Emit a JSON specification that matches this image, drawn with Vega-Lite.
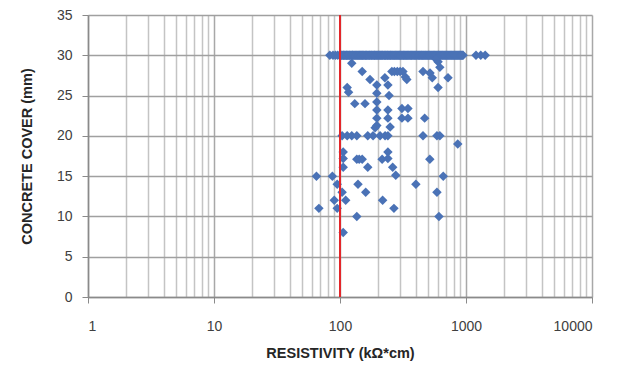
{
  "$schema": "https://vega.github.io/schema/vega-lite/v6.json",
  "width": 504,
  "height": 282,
  "autosize": {"type": "none"},
  "padding": {"left": 88, "top": 15, "right": 36, "bottom": 77},
  "background": "white",
  "config": {
    "view": {"stroke": null},
    "axis": {
      "labelFont": "Liberation Sans",
      "titleFont": "Liberation Sans",
      "labelColor": "#404040",
      "titleColor": "#262626",
      "labelFontSize": 14,
      "titleFontSize": 14.5,
      "titleFontWeight": "bold"
    }
  },
  "datasets": {
    "pts": [
      {"res": 83, "cover": 30}, {"res": 88, "cover": 30}, {"res": 92, "cover": 30}, {"res": 96, "cover": 30},
      {"res": 100, "cover": 30}, {"res": 103, "cover": 30}, {"res": 106, "cover": 30}, {"res": 109, "cover": 30},
      {"res": 112, "cover": 30}, {"res": 115, "cover": 30}, {"res": 118, "cover": 30}, {"res": 121, "cover": 30},
      {"res": 125, "cover": 30}, {"res": 128, "cover": 30}, {"res": 132, "cover": 30}, {"res": 136, "cover": 30},
      {"res": 140, "cover": 30}, {"res": 144, "cover": 30}, {"res": 148, "cover": 30}, {"res": 152, "cover": 30},
      {"res": 157, "cover": 30}, {"res": 161, "cover": 30}, {"res": 166, "cover": 30}, {"res": 171, "cover": 30},
      {"res": 176, "cover": 30}, {"res": 181, "cover": 30}, {"res": 187, "cover": 30}, {"res": 192, "cover": 30},
      {"res": 198, "cover": 30}, {"res": 204, "cover": 30}, {"res": 210, "cover": 30}, {"res": 216, "cover": 30},
      {"res": 223, "cover": 30}, {"res": 229, "cover": 30}, {"res": 236, "cover": 30}, {"res": 243, "cover": 30},
      {"res": 251, "cover": 30}, {"res": 258, "cover": 30}, {"res": 266, "cover": 30}, {"res": 274, "cover": 30},
      {"res": 282, "cover": 30}, {"res": 291, "cover": 30}, {"res": 299, "cover": 30}, {"res": 308, "cover": 30},
      {"res": 318, "cover": 30}, {"res": 327, "cover": 30}, {"res": 337, "cover": 30}, {"res": 347, "cover": 30},
      {"res": 358, "cover": 30}, {"res": 368, "cover": 30}, {"res": 379, "cover": 30}, {"res": 391, "cover": 30},
      {"res": 402, "cover": 30}, {"res": 415, "cover": 30}, {"res": 427, "cover": 30}, {"res": 440, "cover": 30},
      {"res": 453, "cover": 30}, {"res": 466, "cover": 30}, {"res": 480, "cover": 30}, {"res": 495, "cover": 30},
      {"res": 510, "cover": 30}, {"res": 525, "cover": 30}, {"res": 541, "cover": 30}, {"res": 557, "cover": 30},
      {"res": 574, "cover": 30}, {"res": 591, "cover": 30}, {"res": 609, "cover": 30}, {"res": 627, "cover": 30},
      {"res": 646, "cover": 30}, {"res": 665, "cover": 30}, {"res": 685, "cover": 30}, {"res": 706, "cover": 30},
      {"res": 727, "cover": 30}, {"res": 749, "cover": 30}, {"res": 771, "cover": 30}, {"res": 794, "cover": 30},
      {"res": 818, "cover": 30}, {"res": 843, "cover": 30}, {"res": 868, "cover": 30}, {"res": 894, "cover": 30},
      {"res": 921, "cover": 30}, {"res": 948, "cover": 30},
      {"res": 101, "cover": 30}, {"res": 104, "cover": 30}, {"res": 107, "cover": 30}, {"res": 110, "cover": 30},
      {"res": 113, "cover": 30}, {"res": 116, "cover": 30}, {"res": 119, "cover": 30}, {"res": 123, "cover": 30},
      {"res": 126, "cover": 30}, {"res": 130, "cover": 30}, {"res": 134, "cover": 30}, {"res": 138, "cover": 30},
      {"res": 142, "cover": 30}, {"res": 146, "cover": 30}, {"res": 150, "cover": 30}, {"res": 154, "cover": 30},
      {"res": 159, "cover": 30}, {"res": 163, "cover": 30}, {"res": 168, "cover": 30}, {"res": 173, "cover": 30},
      {"res": 178, "cover": 30}, {"res": 184, "cover": 30}, {"res": 189, "cover": 30}, {"res": 195, "cover": 30},
      {"res": 201, "cover": 30}, {"res": 207, "cover": 30}, {"res": 213, "cover": 30}, {"res": 219, "cover": 30},
      {"res": 226, "cover": 30}, {"res": 232, "cover": 30}, {"res": 239, "cover": 30}, {"res": 247, "cover": 30},
      {"res": 254, "cover": 30}, {"res": 262, "cover": 30}, {"res": 270, "cover": 30}, {"res": 278, "cover": 30},
      {"res": 286, "cover": 30}, {"res": 295, "cover": 30}, {"res": 303, "cover": 30}, {"res": 313, "cover": 30},
      {"res": 322, "cover": 30}, {"res": 332, "cover": 30}, {"res": 342, "cover": 30}, {"res": 352, "cover": 30},
      {"res": 363, "cover": 30}, {"res": 373, "cover": 30}, {"res": 385, "cover": 30}, {"res": 396, "cover": 30},
      {"res": 408, "cover": 30}, {"res": 421, "cover": 30}, {"res": 433, "cover": 30}, {"res": 446, "cover": 30},
      {"res": 459, "cover": 30}, {"res": 473, "cover": 30}, {"res": 487, "cover": 30}, {"res": 502, "cover": 30},
      {"res": 517, "cover": 30}, {"res": 533, "cover": 30}, {"res": 549, "cover": 30}, {"res": 565, "cover": 30},
      {"res": 582, "cover": 30}, {"res": 600, "cover": 30}, {"res": 618, "cover": 30}, {"res": 636, "cover": 30},
      {"res": 655, "cover": 30}, {"res": 675, "cover": 30}, {"res": 695, "cover": 30}, {"res": 716, "cover": 30},
      {"res": 738, "cover": 30}, {"res": 760, "cover": 30}, {"res": 782, "cover": 30}, {"res": 806, "cover": 30},
      {"res": 830, "cover": 30}, {"res": 855, "cover": 30}, {"res": 881, "cover": 30}, {"res": 907, "cover": 30},
      {"res": 934, "cover": 30},
      {"res": 1200, "cover": 30}, {"res": 1310, "cover": 30}, {"res": 1420, "cover": 30},
      {"res": 124, "cover": 29}, {"res": 150, "cover": 28}, {"res": 173, "cover": 27}, {"res": 114, "cover": 26},
      {"res": 117, "cover": 25.4}, {"res": 131, "cover": 24}, {"res": 158, "cover": 24},
      {"res": 196, "cover": 26.3}, {"res": 196, "cover": 25.3}, {"res": 196, "cover": 24.2}, {"res": 196, "cover": 23.2},
      {"res": 196, "cover": 22.2}, {"res": 196, "cover": 21.3}, {"res": 190, "cover": 21},
      {"res": 227, "cover": 27.2}, {"res": 240, "cover": 26.3}, {"res": 245, "cover": 25}, {"res": 240, "cover": 23.2},
      {"res": 240, "cover": 22.2}, {"res": 250, "cover": 21.1},
      {"res": 258, "cover": 28}, {"res": 270, "cover": 28}, {"res": 285, "cover": 28}, {"res": 300, "cover": 28},
      {"res": 316, "cover": 28}, {"res": 330, "cover": 27.3}, {"res": 339, "cover": 27},
      {"res": 310, "cover": 23.4}, {"res": 346, "cover": 23.4}, {"res": 310, "cover": 22.2}, {"res": 346, "cover": 22.2},
      {"res": 456, "cover": 28}, {"res": 518, "cover": 27.8}, {"res": 540, "cover": 27.2}, {"res": 600, "cover": 29.2},
      {"res": 620, "cover": 28.5}, {"res": 580, "cover": 29.5}, {"res": 720, "cover": 27.2}, {"res": 600, "cover": 26},
      {"res": 470, "cover": 22.2},
      {"res": 104, "cover": 20}, {"res": 114, "cover": 20}, {"res": 124, "cover": 20}, {"res": 136, "cover": 20},
      {"res": 166, "cover": 20}, {"res": 183, "cover": 20}, {"res": 208, "cover": 20}, {"res": 228, "cover": 20},
      {"res": 240, "cover": 20}, {"res": 456, "cover": 20}, {"res": 588, "cover": 20}, {"res": 620, "cover": 20},
      {"res": 860, "cover": 19},
      {"res": 106, "cover": 18}, {"res": 106, "cover": 17.2}, {"res": 106, "cover": 16.1},
      {"res": 136, "cover": 17.1}, {"res": 142, "cover": 17.1}, {"res": 150, "cover": 17.1}, {"res": 166, "cover": 16.1},
      {"res": 216, "cover": 17.1}, {"res": 240, "cover": 18}, {"res": 240, "cover": 17.2}, {"res": 262, "cover": 16.1},
      {"res": 277, "cover": 15.1}, {"res": 516, "cover": 17.1},
      {"res": 65, "cover": 15}, {"res": 87, "cover": 15}, {"res": 95, "cover": 14}, {"res": 104, "cover": 13},
      {"res": 660, "cover": 15}, {"res": 139, "cover": 14}, {"res": 160, "cover": 13}, {"res": 400, "cover": 14},
      {"res": 588, "cover": 13}, {"res": 90, "cover": 12}, {"res": 68, "cover": 11}, {"res": 95, "cover": 11},
      {"res": 111, "cover": 12}, {"res": 136, "cover": 10}, {"res": 218, "cover": 12}, {"res": 268, "cover": 11},
      {"res": 610, "cover": 10}, {"res": 106, "cover": 8}
    ]
  },
  "layer": [
    {
      "data": {"name": "pts"},
      "mark": {"type": "point", "shape": "diamond", "filled": true, "size": 90, "color": "#4a72b6", "opacity": 1},
      "encoding": {
        "x": {
          "field": "res", "type": "quantitative",
          "scale": {"type": "log", "domain": [1, 10000], "nice": false},
          "title": "RESISTIVITY (kΩ*cm)",
          "axis": {
            "values": [1,2,3,4,5,6,7,8,9,10,20,30,40,50,60,70,80,90,100,200,300,400,500,600,700,800,900,1000,2000,3000,4000,5000,6000,7000,8000,9000,10000],
            "labelExpr": "indexof([1,10,100,1000,10000], datum.value) >= 0 ? datum.value + '' : ''",
            "labelOverlap": false,
            "labelBound": false,
            "labelPadding": 16,
            "tickSize": 6,
            "tickColor": "#8a8a8a",
            "tickOpacity": {"condition": {"test": "indexof([1,10,100,1000,10000], datum.value) >= 0", "value": 1}, "value": 0},
            "domainColor": "#8a8a8a",
            "domainWidth": 1.5,
            "grid": true,
            "gridColor": {"condition": {"test": "indexof([1,10,100,1000,10000], datum.value) >= 0", "value": "#a8a8a8"}, "value": "#c4c4c4"},
            "gridWidth": 1.5,
            "titlePadding": 13
          }
        },
        "y": {
          "field": "cover", "type": "quantitative",
          "scale": {"domain": [0, 35], "nice": false},
          "title": "CONCRETE COVER (mm)",
          "axis": {
            "values": [0,5,10,15,20,25,30,35],
            "tickSize": 6,
            "tickColor": "#8a8a8a",
            "domainColor": "#8a8a8a",
            "domainWidth": 1.5,
            "gridColor": "#a0a0a0",
            "gridWidth": 1.5,
            "labelPadding": 10,
            "titlePadding": 22
          }
        }
      }
    },
    {
      "data": {"values": [{"res": 100}]},
      "mark": {"type": "rule", "color": "#e3262a", "strokeWidth": 2},
      "encoding": {
        "x": {"field": "res", "type": "quantitative"}
      }
    }
  ]
}
